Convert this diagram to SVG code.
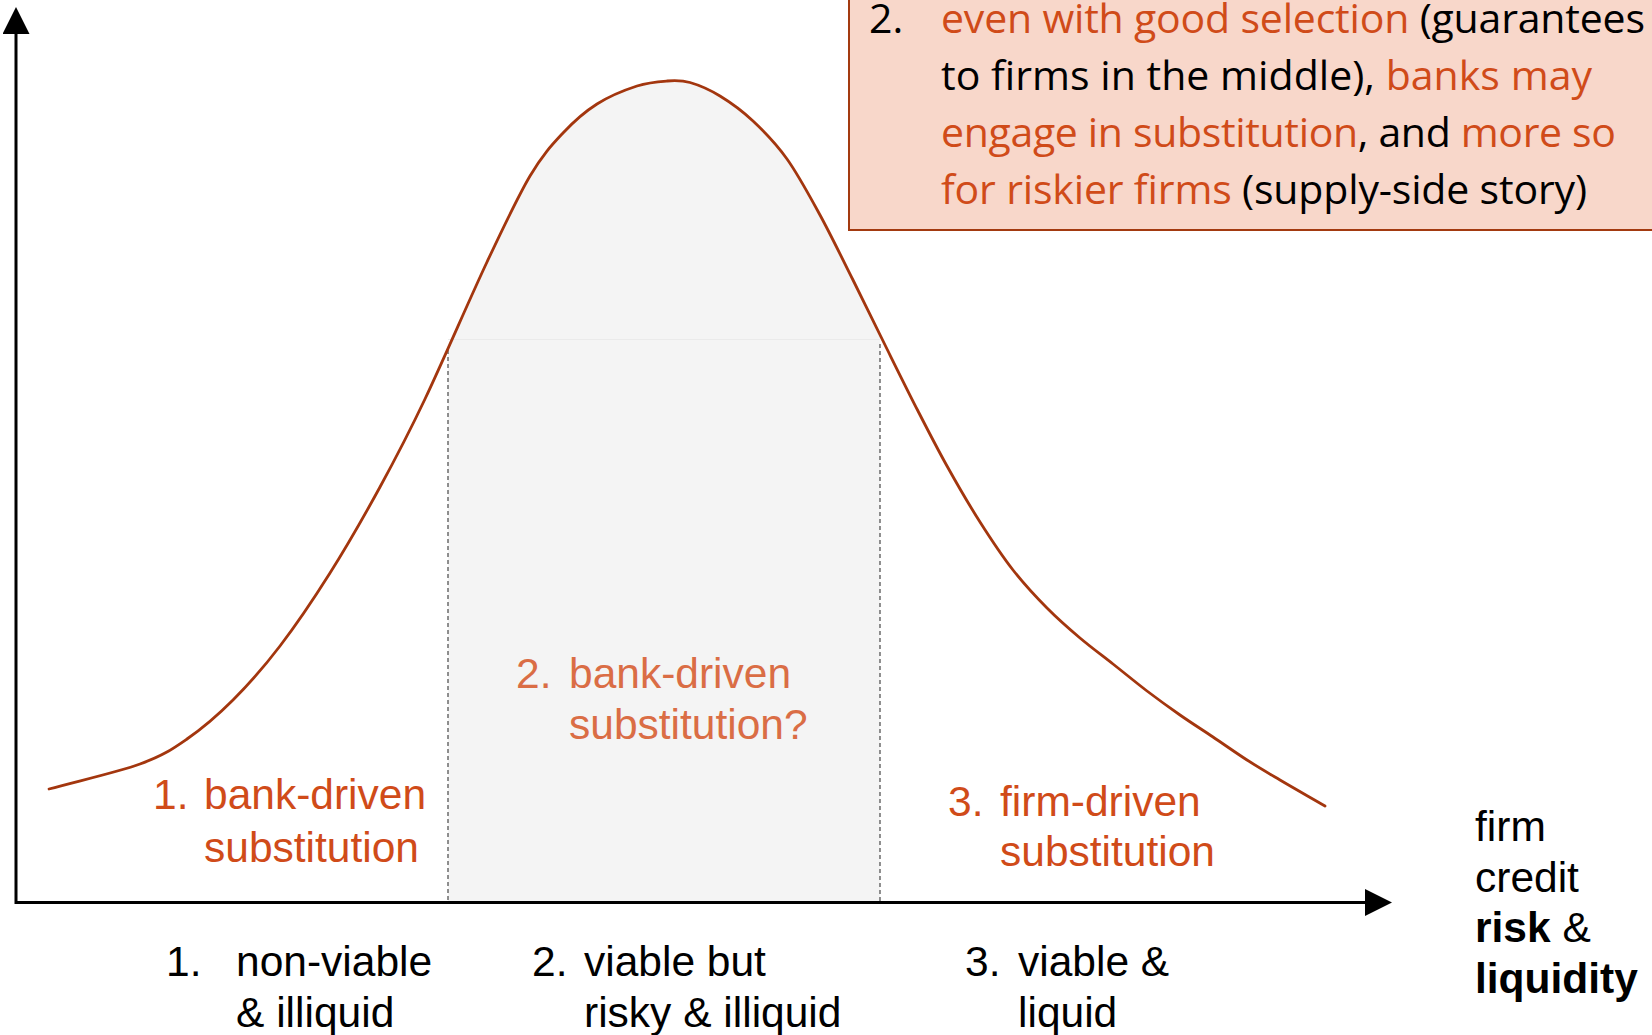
<svg xmlns="http://www.w3.org/2000/svg" width="1652" height="1035" viewBox="0 0 1652 1035">
  <defs>
    <style>
      .lbl { font-family: "Liberation Sans", Arial, sans-serif; font-size: 42.5px; }
      .or { fill: #D04B19; }
      .mid { fill: #DA6D45; }
      .note { font-family: "Open Sans", "Noto Sans", sans-serif; font-size: 41px; fill: #000; }
      .axis { stroke: #000; stroke-width: 3; fill: none; }
      .guide { stroke: #555; stroke-width: 1.3; stroke-dasharray: 4 3; fill: none; }
      .bell { stroke: #A3360E; stroke-width: 2.8; fill: none; stroke-linecap: round; stroke-linejoin: round; }
    </style>
    <marker id="arrow" viewBox="0 0 27 27" markerWidth="27" markerHeight="27" refX="2" refY="13.5" orient="auto" markerUnits="userSpaceOnUse">
      <path d="M0,0 L27,13.5 L0,27 Z" fill="#000"/>
    </marker>
    <clipPath id="band">
      <rect x="448" y="0" width="432" height="903"/>
    </clipPath>
  </defs>

  <rect width="1652" height="1035" fill="#fff"/>

  <!-- shaded middle band under the curve -->
  <g id="middle-band">
    <path clip-path="url(#band)" fill="#F4F4F4" d="M425,399 C442.8,361.5 469.5,299.2 487,262 C504.5,224.8 517.3,197.5 530,176 C542.7,154.5 551.8,145 563,133 C574.2,121 584.7,111.8 597,104 C609.3,96.2 625.3,89.8 637,86 C648.7,82.2 658.2,81.6 667,81 C675.8,80.4 681.2,80 690,82.5 C698.8,85 709.5,89.6 720,96 C730.5,102.4 741.8,110.5 753,121 C764.2,131.5 775.8,143.3 787,159 C798.2,174.7 809,194.8 820,215 C831,235.2 841.8,257.7 853,280 C864.2,302.3 876.2,327.2 887,349 C897.8,370.8 908,391.5 918,411 L918,902 L425,902 Z"/>
    <line x1="448" y1="339.5" x2="880" y2="339.5" stroke="#EAEAEA" stroke-width="1.2"/>
    <line class="guide" x1="448" y1="350" x2="448" y2="902"/>
    <line class="guide" x1="880" y1="344" x2="880" y2="902"/>
  </g>

  <!-- distribution curve -->
  <g id="curve">
    <path class="bell" d="M49,789 C79.3,780.7 117,772.3 140,764 C163,755.7 171.5,749.7 187,739 C202.5,728.3 217.5,715.5 233,700 C248.5,684.5 263.8,667.2 280,646 C296.2,624.8 313.3,599.5 330,573 C346.7,546.5 364.2,516 380,487 C395.8,458 407.2,436.5 425,399 C442.8,361.5 469.5,299.2 487,262 C504.5,224.8 517.3,197.5 530,176 C542.7,154.5 551.8,145 563,133 C574.2,121 584.7,111.8 597,104 C609.3,96.2 625.3,89.8 637,86 C648.7,82.2 658.2,81.6 667,81 C675.8,80.4 681.2,80 690,82.5 C698.8,85 709.5,89.6 720,96 C730.5,102.4 741.8,110.5 753,121 C764.2,131.5 775.8,143.3 787,159 C798.2,174.7 809,194.8 820,215 C831,235.2 841.8,257.7 853,280 C864.2,302.3 876.2,327.2 887,349 C897.8,370.8 908,391.5 918,411 C928,430.5 936.7,447.5 947,466 C957.3,484.5 969,504.7 980,522 C991,539.3 1001.8,555.7 1013,570 C1024.2,584.3 1035.8,596.7 1047,608 C1058.2,619.3 1069,628.7 1080,638 C1091,647.3 1101.8,655.2 1113,664 C1124.2,672.8 1135.8,682.5 1147,691 C1158.2,699.5 1169,707.3 1180,715 C1191,722.7 1201.8,729.5 1213,737 C1224.2,744.5 1235.8,752.8 1247,760 C1258.2,767.2 1267,772.3 1280,780 C1293,787.7 1310,797.3 1325,806"/>
  </g>

  <!-- axes -->
  <g id="axes">
    <line class="axis" x1="16" y1="902.5" x2="1367" y2="902.5" marker-end="url(#arrow)"/>
    <line class="axis" x1="16" y1="904" x2="16" y2="32" marker-end="url(#arrow)"/>
  </g>

  <!-- substitution labels above the axis -->
  <g id="label-bank-driven">
    <text class="lbl or"><tspan x="153" y="809">1.</tspan><tspan x="204" y="809">bank-driven</tspan><tspan x="204" y="861.5">substitution</tspan></text>
  </g>
  <g id="label-bank-driven-q">
    <text class="lbl mid"><tspan x="516" y="688">2.</tspan><tspan x="569" y="688">bank-driven</tspan><tspan x="569" y="738.5">substitution?</tspan></text>
  </g>
  <g id="label-firm-driven">
    <text class="lbl or"><tspan x="948" y="816">3.</tspan><tspan x="1000" y="816">firm-driven</tspan><tspan x="1000" y="866">substitution</tspan></text>
  </g>

  <!-- firm categories below the axis -->
  <g id="cat-nonviable">
    <text class="lbl"><tspan x="166" y="976">1.</tspan><tspan x="236" y="976">non-viable</tspan><tspan x="236" y="1027">&amp; illiquid</tspan></text>
  </g>
  <g id="cat-risky">
    <text class="lbl"><tspan x="532" y="976">2.</tspan><tspan x="584" y="976">viable but</tspan><tspan x="584" y="1027">risky &amp; illiquid</tspan></text>
  </g>
  <g id="cat-viable">
    <text class="lbl"><tspan x="965" y="976">3.</tspan><tspan x="1018" y="976">viable &amp;</tspan><tspan x="1018" y="1027">liquid</tspan></text>
  </g>

  <!-- x-axis title -->
  <g id="axis-title">
    <text class="lbl"><tspan x="1475" y="841">firm</tspan><tspan x="1475" y="892">credit</tspan><tspan x="1475" y="942"><tspan font-weight="bold">risk</tspan> &amp;</tspan><tspan x="1475" y="993" font-weight="bold">liquidity</tspan></text>
  </g>

  <!-- callout box -->
  <g id="callout">
    <rect x="849" y="-6" width="830" height="236" fill="#F8D7CA" stroke="#A33A10" stroke-width="2"/>
    <text class="note or" x="869" y="33">2.</text>
    <text class="note" x="941" y="33" textLength="704"><tspan class="or">even with good selection</tspan> (guarantees</text>
    <text class="note" x="941" y="89.8" textLength="651">to firms in the middle), <tspan class="or">banks may</tspan></text>
    <text class="note" x="941" y="147" textLength="675"><tspan class="or">engage in substitution</tspan>, and <tspan class="or">more so</tspan></text>
    <text class="note" x="941" y="204.2" textLength="646"><tspan class="or">for riskier firms</tspan> (supply-side story)</text>
  </g>
</svg>
